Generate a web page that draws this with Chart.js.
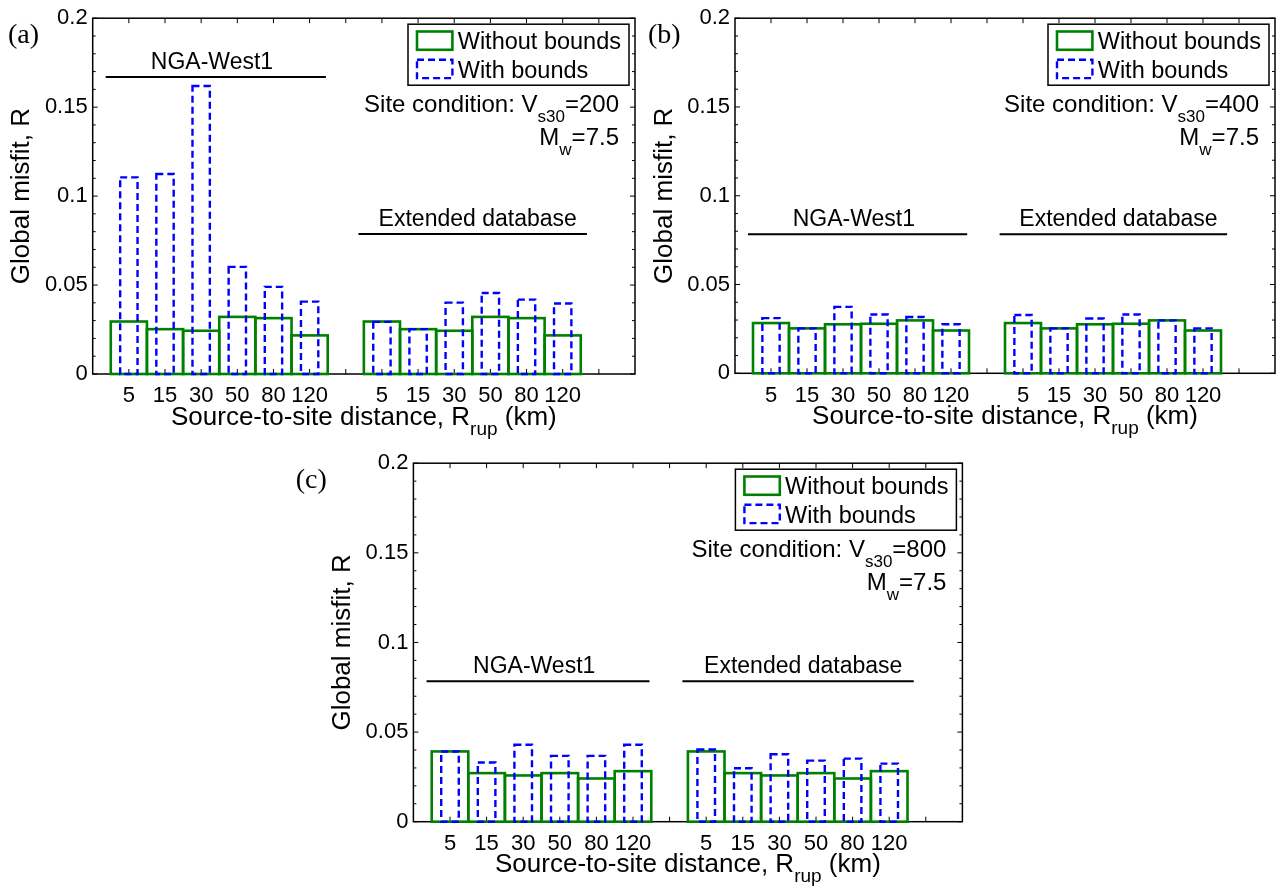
<!DOCTYPE html>
<html>
<head>
<meta charset="utf-8">
<title>Global misfit vs distance</title>
<script src="https://cdn.jsdelivr.net/npm/chart.js@4.4.1/dist/chart.umd.min.js"></script>
<style>
body { margin: 0; background: #fff; }
.panel { position: absolute; }
</style>
</head>
<body>
<div class="panel" style="left:0px;top:0px"><canvas id="chartA" width="645" height="450"></canvas></div>
<div class="panel" style="left:640px;top:0px"><canvas id="chartB" width="647" height="450"></canvas></div>
<div class="panel" style="left:280px;top:445px"><canvas id="chartC" width="700" height="449"></canvas></div>

<script>
// categories
var distances = ['5', '15', '30', '50', '80', '120'];
var groups = ['NGA-West1', 'Extended database'];
var seriesNames = ['Without bounds', 'With bounds'];
var vs30 = ['200', '400', '800'];
var magnitude = '7.5';

// (a) Vs30 = 200
var withoutA_nga = [0.0295, 0.0252, 0.0243, 0.0321, 0.0314, 0.0217];
var withoutA_ext = [0.0295, 0.0252, 0.0243, 0.0321, 0.0314, 0.0217];
var withA_nga    = [0.1105, 0.1124, 0.1619, 0.0602, 0.0490, 0.0407];
var withA_ext    = [0.0293, 0.0252, 0.0401, 0.0455, 0.0418, 0.0396];

// (b) Vs30 = 400
var withoutB_nga = [0.0283, 0.0253, 0.0276, 0.0279, 0.0298, 0.0241];
var withoutB_ext = [0.0283, 0.0253, 0.0276, 0.0279, 0.0298, 0.0241];
var withB_nga    = [0.0311, 0.0253, 0.0374, 0.0331, 0.0317, 0.0276];
var withB_ext    = [0.0328, 0.0253, 0.0309, 0.0331, 0.0298, 0.0253];

// (c) Vs30 = 800
var withoutC_nga = [0.0392, 0.0271, 0.0258, 0.0271, 0.0241, 0.0282];
var withoutC_ext = [0.0392, 0.0271, 0.0258, 0.0271, 0.0241, 0.0282];
var withC_nga    = [0.0392, 0.0330, 0.0429, 0.0367, 0.0367, 0.0429];
var withC_ext    = [0.0403, 0.0298, 0.0376, 0.0341, 0.0352, 0.0324];

var FONT = '"Liberation Sans", Arial, Helvetica, sans-serif';
var nCat = distances.length;
var slot = nCat + 1;              // one empty slot after each group
var xMax = 2 * slot + 1;

function points(nga, ext) {
	var out = [];
	nga.forEach(function (v, i) { out.push({ x: i + 1, y: v }); });
	ext.forEach(function (v, i) { out.push({ x: i + 1 + slot, y: v }); });
	return out;
}

function tickLabel(v) {
	var k = Math.round(v);
	if (k >= 1 && k <= nCat) return distances[k - 1];
	if (k > slot && k <= slot + nCat) return distances[k - 1 - slot];
	return '';
}

// text with subscripts: parts = [[text, isSub], ...]
function drawRich(ctx, parts, x, y, align, size) {
	var sub = Math.round(size * 0.72);
	var w = 0;
	parts.forEach(function (p) {
		ctx.font = (p[1] ? sub : size) + 'px ' + FONT;
		p.w = ctx.measureText(p[0]).width;
		w += p.w;
	});
	var cx = align === 'right' ? x - w : (align === 'center' ? x - w / 2 : x);
	ctx.textAlign = 'left';
	ctx.textBaseline = 'alphabetic';
	parts.forEach(function (p) {
		ctx.font = (p[1] ? sub : size) + 'px ' + FONT;
		ctx.fillText(p[0], cx, p[1] ? y + Math.round(size * 0.4) : y);
		cx += p.w;
	});
}

function outline(ctx, ds) {
	ctx.strokeStyle = ds.outlineColor;
	ctx.lineWidth = ds.outlineWidth;
	ctx.setLineDash(ds.outlineDash);
}

var deco = {
	id: 'deco',
	beforeDatasetsDraw: function (chart) {
		var ctx = chart.ctx, a = chart.chartArea, xs = chart.scales.x, ys = chart.scales.y;
		ctx.save();
		ctx.strokeStyle = '#000';
		ctx.lineWidth = 1.5;
		ctx.strokeRect(a.left, a.top, a.right - a.left, a.bottom - a.top);
		ctx.lineWidth = 1;
		ctx.beginPath();
		xs.ticks.forEach(function (t) {
			var px = xs.getPixelForValue(t.value);
			ctx.moveTo(px, a.bottom); ctx.lineTo(px, a.bottom - 5);
			ctx.moveTo(px, a.top); ctx.lineTo(px, a.top + 5);
		});
		var n = Math.round((ys.max - ys.min) / 0.01);
		for (var k = 0; k <= n; k++) {
			var py = ys.getPixelForValue(ys.min + k * 0.01);
			var len = (k % 5 === 0) ? 5 : 3;
			ctx.moveTo(a.left, py); ctx.lineTo(a.left + len, py);
			ctx.moveTo(a.right, py); ctx.lineTo(a.right - len, py);
		}
		ctx.stroke();
		ctx.restore();
	},
	afterDatasetsDraw: function (chart) {
		var ctx = chart.ctx;
		ctx.save();
		chart.data.datasets.forEach(function (ds, di) {
			outline(ctx, ds);
			chart.getDatasetMeta(di).data.forEach(function (el) {
				var p = el.getProps(['x', 'y', 'base', 'width'], true);
				ctx.strokeRect(p.x - p.width / 2, p.y, p.width, p.base - p.y);
			});
		});
		ctx.restore();
	},
	afterDraw: function (chart, args, o) {
		var ctx = chart.ctx, a = chart.chartArea, xs = chart.scales.x, ys = chart.scales.y;
		ctx.save();
		ctx.fillStyle = '#000';

		// panel tag
		ctx.font = '28px "Liberation Serif", "Times New Roman", serif';
		ctx.textAlign = 'left';
		ctx.textBaseline = 'alphabetic';
		ctx.fillText(o.tag, o.tagX, 42.7);

		// axis titles
		drawRich(ctx, [['Source-to-site distance, R', 0], ['rup', 1], [' (km)', 0]],
			(a.left + a.right) / 2, a.bottom + 50.5, 'center', 26);
		ctx.save();
		ctx.translate(a.left - 70.5, (a.top + a.bottom) / 2);
		ctx.rotate(-Math.PI / 2);
		ctx.font = '26px ' + FONT;
		ctx.textAlign = 'center';
		ctx.textBaseline = 'middle';
		ctx.fillText('Global misfit, R', 0, 0);
		ctx.restore();

		// group labels
		var spans = [[0.36, 6.45, 3.3], [7.35, 13.67, 10.65]];
		groups.forEach(function (g, gi) {
			var py = ys.getPixelForValue(o.groupY[gi]);
			ctx.strokeStyle = '#000';
			ctx.lineWidth = 2;
			ctx.setLineDash([]);
			ctx.beginPath();
			ctx.moveTo(xs.getPixelForValue(spans[gi][0]), py);
			ctx.lineTo(xs.getPixelForValue(spans[gi][1]), py);
			ctx.stroke();
			ctx.font = '23px ' + FONT;
			ctx.textAlign = 'center';
			ctx.textBaseline = 'alphabetic';
			ctx.fillText(g, xs.getPixelForValue(spans[gi][2]), py - 8);
		});

		// legend
		var bw = 221, bh = 61, bx = a.right - 6 - bw, by = a.top + 6;
		ctx.fillStyle = '#fff';
		ctx.fillRect(bx, by, bw, bh);
		ctx.strokeStyle = '#000';
		ctx.lineWidth = 1.5;
		ctx.setLineDash([]);
		ctx.strokeRect(bx, by, bw, bh);
		chart.data.datasets.forEach(function (ds, i) {
			outline(ctx, ds);
			ctx.strokeRect(bx + 9, by + 7.3 + i * 28.3, 35.4, 18.3);
			ctx.setLineDash([]);
			ctx.fillStyle = '#000';
			ctx.font = '23.5px ' + FONT;
			ctx.textAlign = 'left';
			ctx.textBaseline = 'alphabetic';
			ctx.fillText(ds.label, bx + 49.7, by + 25 + i * 28.3);
		});

		// site condition
		ctx.fillStyle = '#000';
		drawRich(ctx, [['Site condition: V', 0], ['s30', 1], ['=' + o.vs, 0]], a.right - 16, a.top + 94, 'right', 24);
		drawRich(ctx, [['M', 0], ['w', 1], ['=' + magnitude, 0]], a.right - 16, a.top + 126.5, 'right', 24);
		ctx.restore();
	}
};

function makeChart(id, without, withB, p) {
	var ctx = document.getElementById(id).getContext('2d');
	return new Chart(ctx, {
		type: 'bar',
		data: {
			datasets: [
				{
					label: seriesNames[0],
					data: without,
					backgroundColor: 'rgba(0,0,0,0)',
					borderWidth: 0,
					barPercentage: 1,
					categoryPercentage: 1,
					grouped: false,
					outlineColor: '#008000',
					outlineWidth: 2.6,
					outlineDash: []
				},
				{
					label: seriesNames[1],
					data: withB,
					backgroundColor: 'rgba(0,0,0,0)',
					borderWidth: 0,
					barPercentage: 0.48,
					categoryPercentage: 1,
					grouped: false,
					outlineColor: '#0000ff',
					outlineWidth: 2.4,
					outlineDash: [7, 4]
				}
			]
		},
		options: {
			responsive: false,
			animation: false,
			devicePixelRatio: 1,
			layout: { padding: { left: 0, top: p.top, right: p.right, bottom: 0 } },
			plugins: {
				legend: { display: false },
				tooltip: { enabled: false },
				deco: { tag: p.tag, tagX: p.tagX, vs: p.vs, groupY: p.groupY }
			},
			scales: {
				x: {
					type: 'linear',
					min: 0,
					max: xMax,
					offset: false,
					grid: { display: false, drawTicks: false },
					border: { display: false },
					afterBuildTicks: function (s) {
						var t = [];
						for (var k = 1; k < xMax; k++) t.push({ value: k });
						s.ticks = t;
					},
					afterFit: function (s) { s.height = p.xH; },
					ticks: {
						autoSkip: false,
						maxRotation: 0,
						padding: 9,
						color: '#000',
						font: { family: FONT, size: 22 },
						callback: function (v) { return tickLabel(v); }
					}
				},
				y: {
					min: 0,
					max: 0.2,
					grid: { display: false, drawTicks: false },
					border: { display: false },
					afterFit: function (s) { s.width = p.yW; },
					ticks: {
						stepSize: 0.05,
						padding: 5,
						color: '#000',
						font: { family: FONT, size: 22 },
						callback: function (v) { return String(+v.toFixed(2)); }
					}
				}
			}
		},
		plugins: [deco]
	});
}

makeChart('chartA', points(withoutA_nga, withoutA_ext), points(withA_nga, withA_ext),
	{ tag: '(a)', tagX: 8, vs: vs30[0], groupY: [0.167, 0.0787], top: 15, right: 10, yW: 92.7, xH: 76 });
makeChart('chartB', points(withoutB_nga, withoutB_ext), points(withB_nga, withB_ext),
	{ tag: '(b)', tagX: 8, vs: vs30[1], groupY: [0.0783, 0.0783], top: 15, right: 12, yW: 95, xH: 76.7 });
makeChart('chartC', points(withoutC_nga, withoutC_ext), points(withC_nga, withC_ext),
	{ tag: '(c)', tagX: 15.7, vs: vs30[2], groupY: [0.0783, 0.0783], top: 14.5, right: 17.6, yW: 133.4, xH: 72.3 });
</script>
</body>
</html>
